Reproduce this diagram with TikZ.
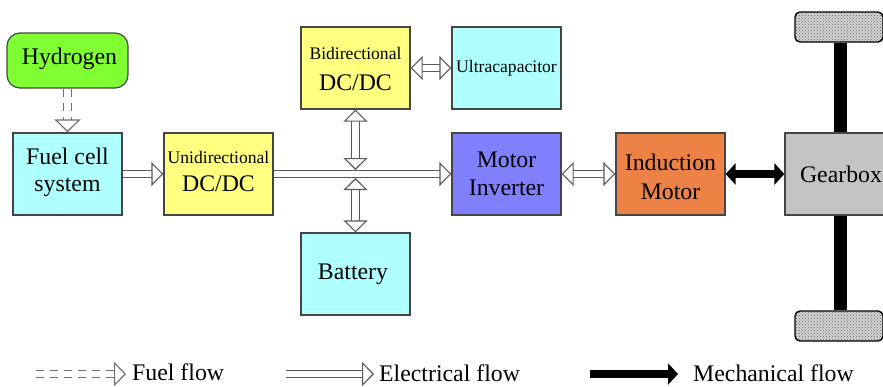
\documentclass[tikz,border=0pt]{standalone}
\usepackage{fontspec}
\setmainfont{Liberation Serif}
\usetikzlibrary{arrows.meta,patterns}
\definecolor{edgec}{HTML}{454545}
\definecolor{flowc}{HTML}{5A5A5A}
\definecolor{fuelc}{HTML}{707070}
\definecolor{hyd}{HTML}{80FF33}
\definecolor{cyanb}{HTML}{B0FFFF}
\definecolor{yel}{HTML}{FFFF80}
\definecolor{pur}{HTML}{8080FF}
\definecolor{ora}{HTML}{EC8246}
\definecolor{gra}{HTML}{C4C4C4}
\newcommand{\largetxt}{\fontsize{23.8}{26}\selectfont}
\newcommand{\smalltxt}{\fontsize{17.6}{20}\selectfont}
\newcommand{\shifted}[2]{\raisebox{#1}[0pt][0pt]{\begin{tabular}{@{}c@{}}#2\end{tabular}}}
\tikzset{
  blockbox/.style={draw=edgec,line width=1.2pt,minimum width=109pt,minimum height=82pt,inner sep=0pt,font=\largetxt},
  elecflow/.style={draw=flowc,line width=1.1pt,double=white,double distance=6.5pt},
  fuelflow/.style={draw=fuelc,line width=1.2pt,double=white,double distance=6.5pt,dash pattern=on 8pt off 6pt},
  mechflow/.style={draw=black,line width=7.5pt},
  htip/.style={-{Triangle[open,fill=white,length=12pt,width=24pt,line width=1.1pt]}},
  ftip/.style={-{Triangle[open,fill=white,length=13pt,width=26pt,line width=1.2pt]}},
  hboth/.style={{Triangle[open,fill=white,length=12pt,width=24pt,line width=1.1pt]}-{Triangle[open,fill=white,length=12pt,width=24pt,line width=1.1pt]}},
  mtip/.style={-{Triangle[length=10pt,width=21pt]}},
  mboth/.style={{Triangle[length=10pt,width=21pt]}-{Triangle[length=10pt,width=21pt]}},
  wheelbox/.style={draw=black,line width=1.4pt,rounded corners=5pt,minimum width=88pt,minimum height=30pt,inner sep=0pt,
    preaction={fill=gray!35},pattern=crosshatch dots,pattern color=black!60},
  legendtext/.style={font=\largetxt,inner sep=0pt,anchor=west},
}
\begin{document}
\begin{tikzpicture}[x=1pt,y=-1pt]
\useasboundingbox (0,0) rectangle (883,386);
\clip (0,0) rectangle (883,386);
% blocks
\node[blockbox,fill=hyd,rounded corners=13pt,minimum width=121pt,minimum height=55pt] (hydrogen) at (67.5,60.5) {\hspace{4pt}\shifted{-4.9pt}{Hydrogen}};
\node[blockbox,fill=cyanb] (fuel) at (67.5,174) {\shifted{-5.4pt}{Fuel cell\\[1pt]system}};
\node[blockbox,fill=yel] (uni) at (218.5,174) {\shifted{-4.4pt}{{\smalltxt Unidirectional}\\[2pt]DC/DC}};
\node[blockbox,fill=yel] (bi) at (355.5,68) {\shifted{-7.9pt}{{\smalltxt Bidirectional}\\[5pt]DC/DC}};
\node[blockbox,fill=cyanb,font=\smalltxt] (ultra) at (506.5,68) {Ultracapacitor};
\node[blockbox,fill=pur] (inverter) at (506.5,174) {\shifted{-8.9pt}{Motor\\[2pt]Inverter}};
\node[blockbox,fill=cyanb] (battery) at (355.5,274) {\hspace{-5pt}Battery};
\node[blockbox,fill=ora] (induction) at (670.5,174) {\shifted{-11.9pt}{Induction\\[3pt]Motor}};
\node[blockbox,draw=edgec,fill=gra,minimum width=112pt] (gearbox) at (841,174) {Gearbox};
\node[wheelbox] (wheeltop) at (839,27) {};
\node[wheelbox] (wheelbot) at (839,326) {};
% junctions on the bus
\coordinate (jt) at (355.5,170);
\coordinate (jb) at (355.5,178);
% flows
\draw[fuelflow,ftip] (hydrogen.south) -- (fuel.north);
\draw[elecflow,htip] (fuel.east) -- (uni.west);
\draw[elecflow,htip] (uni.east) -- (inverter.west);
\draw[elecflow,hboth] (bi.east) -- (ultra.west);
\draw[elecflow,hboth] (bi.south) -- (jt);
\draw[elecflow,hboth] (battery.north) -- (jb);
\draw[elecflow,hboth] (inverter.east) -- (induction.west);
\draw[mechflow,mboth] (induction.east) -- (gearbox.west);
\draw[line width=13pt] ([xshift=1pt]wheeltop.south) -- ([xshift=1pt]wheeltop.south |- gearbox.north);
\draw[line width=13pt] ([xshift=1pt]wheelbot.north) -- ([xshift=1pt]wheelbot.north |- gearbox.south);
% legend
\node[legendtext] (lfuel) at (132,372) {Fuel flow};
\node[legendtext] (lelec) at (379,373) {Electrical flow};
\node[legendtext] (lmech) at (693,373.5) {Mechanical flow};
\coordinate (sfuel) at (36,374);
\coordinate (efuel) at (126,374);
\coordinate (selec) at (286,374);
\coordinate (eelec) at (374,374);
\coordinate (smech) at (590,374);
\coordinate (emech) at (678,374);
\draw[fuelflow,htip] (sfuel) -- (efuel);
\draw[elecflow,htip] (selec) -- (eelec);
\draw[mechflow,mtip] (smech) -- (emech);
\end{tikzpicture}
\end{document}
